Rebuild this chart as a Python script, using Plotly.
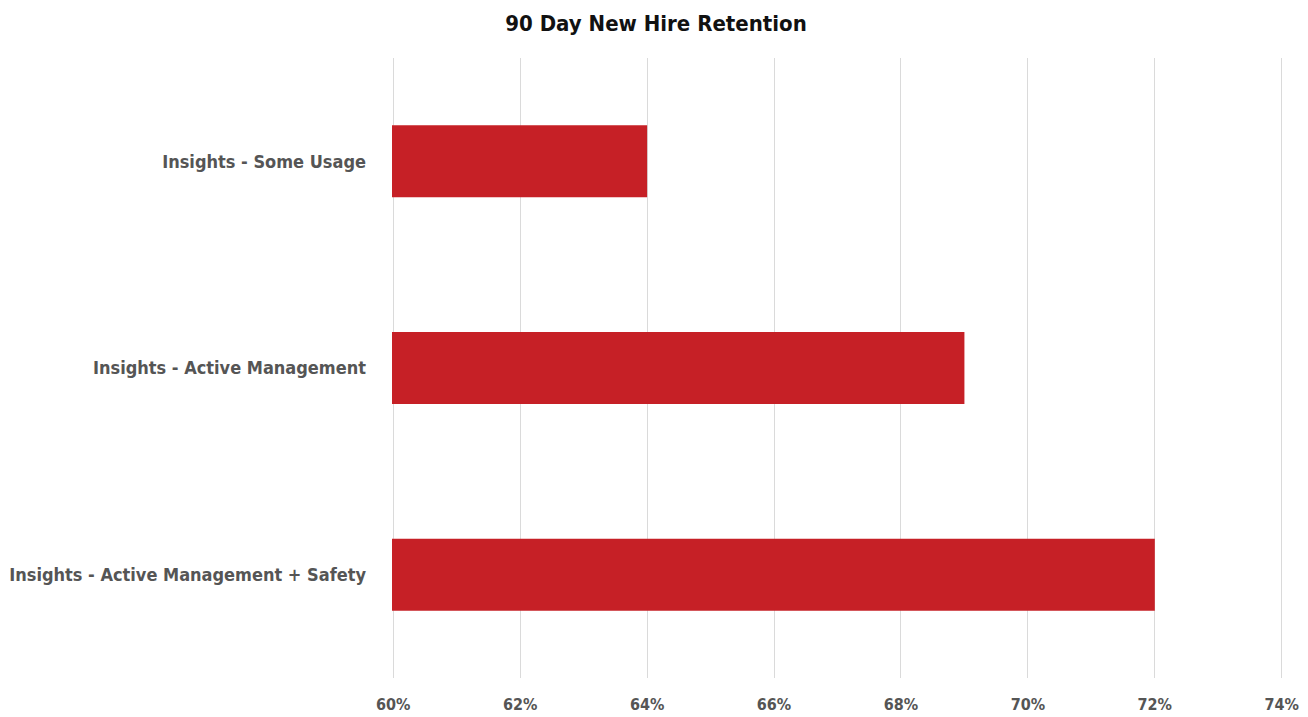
import plotly.graph_objects as go

categories = ["Insights - Some Usage", "Insights - Active Management", "Insights - Active Management + Safety"]
retention = [0.64, 0.69, 0.72]
tick_vals = [0.60, 0.62, 0.64, 0.66, 0.68, 0.70, 0.72, 0.74]

FONT = "DejaVu Sans Condensed, DejaVu Sans, sans-serif"

fig = go.Figure(go.Bar(
    x=retention, y=categories, orientation="h",
    marker=dict(color="#C62026", line=dict(width=0)),
))

fig.update_layout(
    width=1308, height=717,
    margin=dict(l=392, r=25, t=58, b=39),
    paper_bgcolor="white", plot_bgcolor="white",
    bargap=0.652,
    showlegend=False,
    title=dict(text="<b>90 Day New Hire Retention</b>", x=656/1308, xref="container", xanchor="center",
               y=1 - 23/717, yref="container", yanchor="middle",
               font=dict(family=FONT, size=22, color="#111111")),
    font=dict(family=FONT, color="#555555"),
)

fig.update_xaxes(range=[0.5998, 0.7402], tickvals=tick_vals, tickformat=".0%",
                 showgrid=True, gridcolor="#DADADA", gridwidth=1, zeroline=False,
                 showline=False, ticks="", ticklabelstandoff=15, automargin=False,
                 tickfont=dict(family=FONT, size=16, color="#555555", weight="bold"))
fig.update_yaxes(autorange="reversed", showgrid=False, zeroline=False, showline=False,
                 ticks="", ticklabelstandoff=25, automargin=False,
                 tickfont=dict(family=FONT, size=18, color="#555555", weight="bold"))

fig.write_html("out.html")
